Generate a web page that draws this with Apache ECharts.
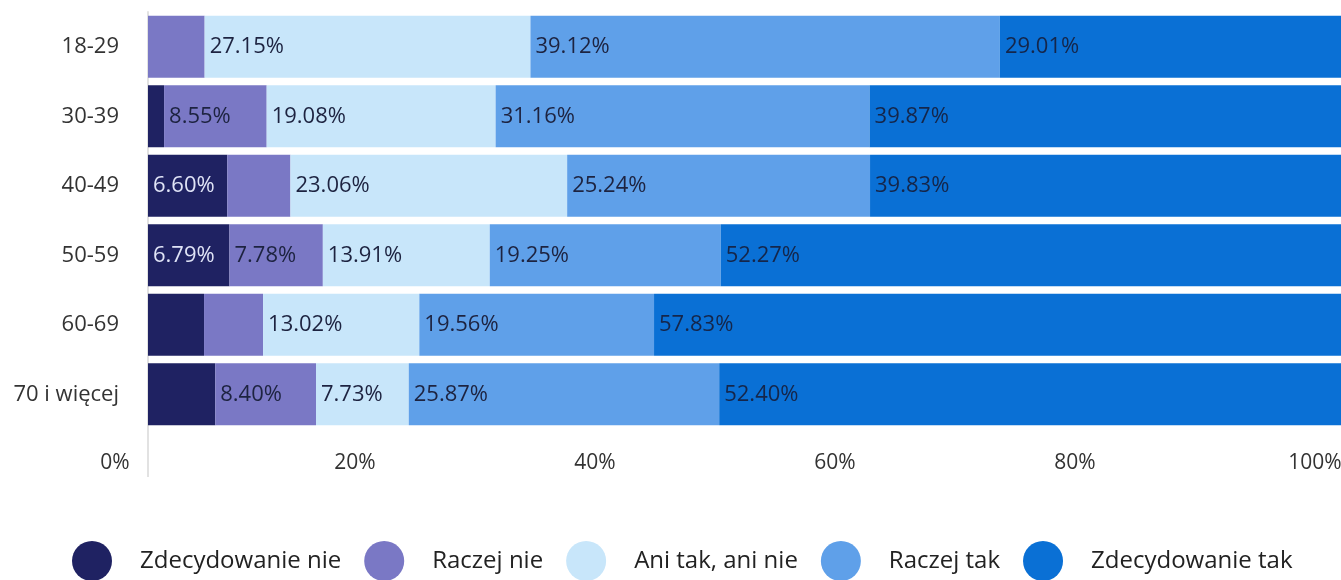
<!DOCTYPE html>
<html>
<head>
<meta charset="utf-8">
<script src="https://cdn.jsdelivr.net/npm/echarts@6/dist/echarts.min.js"></script>
<style>
  html, body { margin: 0; padding: 0; background: #fff; }
  #main { width: 1341px; height: 580px; }
</style>
</head>
<body>
<div id="main"></div>
<script>
// age groups (top to bottom)
var categories = ['18-29', '30-39', '40-49', '50-59', '60-69', '70 i więcej'];
var seriesNames = ['Zdecydowanie nie', 'Raczej nie', 'Ani tak, ani nie', 'Raczej tak', 'Zdecydowanie tak'];
var xTicks = ['0%', '20%', '40%', '60%', '80%', '100%'];

// shares in percent, one array per answer
var zdecNie   = [0.00, 1.34, 6.60, 6.79, 4.67, 5.60];
var raczejNie = [4.72, 8.55, 5.27, 7.78, 4.92, 8.40];
var aniNie    = [27.15, 19.08, 23.06, 13.91, 13.02, 7.73];
var raczejTak = [39.12, 31.16, 25.24, 19.25, 19.56, 25.87];
var zdecTak   = [29.01, 39.87, 39.83, 52.27, 57.83, 52.40];

var values = [zdecNie, raczejNie, aniNie, raczejTak, zdecTak];
var colors = ['#1f2262', '#7a78c5', '#c8e6fa', '#5fa0e9', '#0a70d5'];
var labelColors = ['#dfe3f6', '#1d2340', '#1d2340', '#1d2340', '#15264a'];

var myChart = echarts.init(document.getElementById('main'));

var series = values.map(function (arr, i) {
    return {
        name: seriesNames[i],
        type: 'bar',
        stack: 'total',
        barCategoryGap: '10.8%',
        data: arr,
        itemStyle: { color: colors[i] },
        label: {
            show: true,
            position: 'insideLeft',
            distance: 5,
            fontFamily: 'Open Sans',
            fontSize: 22,
            color: labelColors[i],
            formatter: function (p) {
                return p.value >= 6 ? p.value.toFixed(2) + '%' : '';
            }
        },
        emphasis: { disabled: true }
    };
});

var option = {
    animation: false,
    textStyle: { fontFamily: 'Open Sans' },
    grid: {
        left: 148,
        right: -7,
        top: 12,
        bottom: 151,
        outerBoundsMode: 'none'
    },
    legend: {
        data: seriesNames,
        left: 67,
        top: 536,
        icon: 'circle',
        itemWidth: 40,
        itemHeight: 40,
        itemGap: 23,
        textStyle: {
            fontFamily: 'Open Sans',
            fontSize: 24,
            color: '#222',
            padding: [8, 0, 0, 23]
        }
    },
    xAxis: {
        type: 'value',
        min: 0,
        max: 100,
        interval: 20,
        axisLine: { show: false },
        axisTick: { show: false },
        splitLine: { show: false },
        axisLabel: {
            margin: 24,
            fontSize: 21,
            color: '#333',
            align: 'center',
            padding: [0, 66, 0, 0],
            formatter: function (v) { return xTicks[v / 20]; }
        }
    },
    yAxis: {
        type: 'category',
        inverse: true,
        data: categories,
        axisLine: { show: true, lineStyle: { color: '#e2e2e2', width: 2 } },
        axisTick: { show: false },
        axisLabel: { margin: 29, fontSize: 22, color: '#333' }
    },
    graphic: [{
        type: 'line',
        shape: { x1: 148, y1: 429, x2: 148, y2: 477 },
        style: { stroke: '#e2e2e2', lineWidth: 2 }
    }],
    series: series
};
myChart.setOption(option);
</script>
</body>
</html>
